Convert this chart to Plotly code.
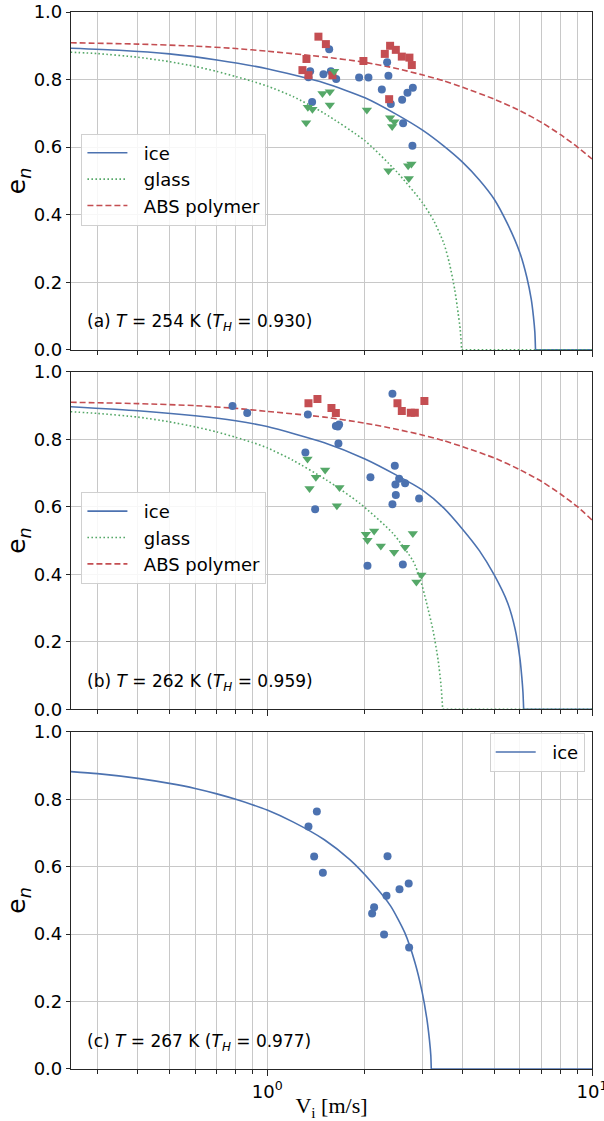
import plotly.graph_objects as go
from plotly.subplots import make_subplots

BLUE = "#4C72B0"
GREEN = "#55A868"
RED = "#C44E52"

# ---------------- panel (a) T = 254 K ----------------
a_ice_v = [1.552, 1.356, 1.490, 1.340, 1.570, 1.631, 1.919, 2.050, 2.340, 2.362,
           2.254, 2.703, 2.808, 2.603, 2.402, 1.375, 2.621, 2.800]
a_ice_e = [0.890, 0.825, 0.816, 0.807, 0.825, 0.802, 0.806, 0.806, 0.851, 0.811,
           0.771, 0.761, 0.776, 0.740, 0.728, 0.734, 0.671, 0.604]
a_glass_v = [1.608, 1.480, 1.559, 1.334, 1.378, 1.559, 1.318, 2.027, 2.390, 2.464,
             2.425, 2.362, 2.716, 2.780, 2.729]
a_glass_e = [0.825, 0.759, 0.764, 0.718, 0.712, 0.725, 0.672, 0.710, 0.687, 0.675,
             0.661, 0.530, 0.545, 0.550, 0.507]
a_abs_v = [1.438, 1.516, 1.321, 1.284, 1.340, 1.588, 1.978, 2.390, 2.489, 2.302,
           2.597, 2.741, 2.788, 2.374]
a_abs_e = [0.927, 0.905, 0.861, 0.828, 0.813, 0.813, 0.855, 0.900, 0.888, 0.876,
           0.868, 0.865, 0.843, 0.742]

a_ice_curve_v = [0.248, 0.35, 0.5, 0.7, 1.0, 1.5, 2.0, 2.5, 3.0, 3.5, 4.0, 4.5, 5.0,
                 5.5, 6.0, 6.3, 6.5, 6.6, 6.67, 6.70]
a_ice_curve_e = [0.893, 0.887, 0.876, 0.858, 0.832, 0.790, 0.746, 0.697, 0.651, 0.603,
                 0.555, 0.503, 0.446, 0.372, 0.287, 0.215, 0.150, 0.100, 0.052, 0.0]
a_glass_curve_v = [0.248, 0.3, 0.4, 0.5, 0.6, 0.7, 0.8, 0.9, 1.0, 1.2, 1.5, 2.0, 2.5,
                   3.0, 3.25, 3.5, 3.64, 3.78, 3.87, 3.93, 3.97]
a_glass_curve_e = [0.881, 0.877, 0.866, 0.853, 0.839, 0.824, 0.809, 0.795, 0.781, 0.750,
                   0.700, 0.619, 0.528, 0.437, 0.384, 0.315, 0.256, 0.178, 0.110, 0.060,
                   0.0]
a_abs_curve_v = [0.248, 0.4, 0.6, 0.8, 1.0, 1.5, 2.0, 2.5, 3.0, 3.5, 4.0, 5.0, 6.0,
                 7.0, 8.0, 9.0, 10.0]
a_abs_curve_e = [0.909, 0.905, 0.899, 0.892, 0.884, 0.867, 0.851, 0.833, 0.814, 0.796,
                 0.777, 0.742, 0.708, 0.673, 0.637, 0.601, 0.565]

# ---------------- panel (b) T = 262 K ----------------
b_ice_v = [2.430, 1.334, 1.627, 1.665, 1.650, 1.657, 1.311, 2.471, 2.079, 2.548,
           2.482, 2.658, 2.489, 2.936, 2.430, 1.405, 2.036, 2.616, 0.782, 0.868]
b_ice_e = [0.935, 0.874, 0.840, 0.844, 0.838, 0.788, 0.761, 0.722, 0.688, 0.683,
           0.666, 0.670, 0.635, 0.625, 0.608, 0.593, 0.425, 0.429, 0.899, 0.878]
b_glass_v = [1.331, 1.508, 1.412, 1.350, 1.669, 1.639, 2.013, 2.134, 2.036, 2.238,
             2.459, 2.658, 2.808, 2.880, 2.985]
b_glass_e = [0.742, 0.709, 0.688, 0.654, 0.657, 0.603, 0.519, 0.528, 0.501, 0.484,
             0.465, 0.480, 0.521, 0.377, 0.398]
b_abs_v = [1.340, 1.428, 1.577, 1.627, 2.518, 2.597, 2.768, 2.848, 3.048]
b_abs_e = [0.907, 0.920, 0.893, 0.878, 0.907, 0.884, 0.879, 0.879, 0.914]

b_ice_curve_v = [0.248, 0.4, 0.6, 0.8, 1.0, 1.5, 2.0, 2.5, 3.0, 3.5, 4.0, 4.5, 5.0,
                 5.5, 5.8, 6.0, 6.08, 6.13, 6.16]
b_ice_curve_e = [0.897, 0.885, 0.870, 0.855, 0.838, 0.790, 0.742, 0.694, 0.650, 0.596,
                 0.533, 0.470, 0.398, 0.315, 0.237, 0.150, 0.095, 0.050, 0.0]
b_glass_curve_v = [0.248, 0.3, 0.4, 0.5, 0.6, 0.7, 0.8, 0.9, 1.0, 1.2, 1.52, 1.93,
                   2.44, 2.81, 2.95, 3.09, 3.24, 3.36, 3.43, 3.47]
b_glass_curve_e = [0.882, 0.877, 0.866, 0.852, 0.837, 0.822, 0.806, 0.791, 0.775, 0.738,
                   0.680, 0.610, 0.521, 0.440, 0.390, 0.318, 0.234, 0.145, 0.070, 0.0]
b_abs_curve_v = [0.248, 0.4, 0.6, 0.8, 1.0, 1.5, 2.0, 2.5, 3.0, 3.5, 4.0, 5.0, 6.0,
                 7.0, 8.0, 9.0, 10.0]
b_abs_curve_e = [0.910, 0.906, 0.900, 0.892, 0.883, 0.866, 0.848, 0.830, 0.813, 0.796,
                 0.778, 0.745, 0.710, 0.675, 0.638, 0.601, 0.561]

# ---------------- panel (c) T = 267 K ----------------
c_ice_v = [1.422, 1.340, 1.395, 1.484, 2.347, 2.727, 2.555, 2.330, 2.134, 2.104,
           2.290, 2.735]
c_ice_e = [0.764, 0.719, 0.630, 0.582, 0.631, 0.550, 0.533, 0.514, 0.480, 0.461,
           0.399, 0.360]
c_ice_curve_v = [0.248, 0.3, 0.4, 0.5, 0.6, 0.7, 0.8, 0.9, 1.0, 1.2, 1.5, 1.8, 2.1,
                 2.4, 2.65, 2.85, 3.0, 3.1, 3.16, 3.19, 3.20]
c_ice_curve_e = [0.882, 0.876, 0.862, 0.847, 0.832, 0.816, 0.800, 0.784, 0.768, 0.733,
                 0.680, 0.620, 0.553, 0.483, 0.405, 0.316, 0.228, 0.150, 0.085, 0.040,
                 0.0]

X_MAX = 10.0
y_ticks = [0.0, 0.2, 0.4, 0.6, 0.8, 1.0]
y_ticktext = ["0.0", "0.2", "0.4", "0.6", "0.8", "1.0"]
x_major = [1, 10]
x_major_text = ["10<sup>0</sup>", "10<sup>1</sup>"]
x_minor = [0.3, 0.4, 0.5, 0.6, 0.7, 0.8, 0.9, 2, 3, 4, 5, 6, 7, 8, 9]

labels = ["(a) <i>T</i> = 254 K (<i>T</i><sub><i>H</i></sub> = 0.930)",
          "(b) <i>T</i> = 262 K (<i>T</i><sub><i>H</i></sub> = 0.959)",
          "(c) <i>T</i> = 267 K (<i>T</i><sub><i>H</i></sub> = 0.977)"]

SP = "\u00a0\u00a0"

fig = make_subplots(rows=3, cols=1, shared_xaxes=True)


def curve(v, e, color, dash, name, row, legend, showlegend=True):
    xs = list(v)
    ys = list(e)
    if ys[-1] == 0.0 and xs[-1] < X_MAX:
        xs = xs + [None, xs[-1], X_MAX]
        ys = ys + [None, 0.0, 0.0]
    fig.add_trace(go.Scatter(x=xs, y=ys, mode="lines", name=SP + name,
                             line=dict(color=color, width=1.6, dash=dash, shape="spline",
                                       smoothing=0.6),
                             connectgaps=False, showlegend=showlegend, legend=legend,
                             hoverinfo="skip"), row=row, col=1)


def points(v, e, color, symbol, size, row):
    fig.add_trace(go.Scatter(x=v, y=e, mode="markers", showlegend=False,
                             marker=dict(color=color, symbol=symbol, size=size,
                                         line=dict(width=0))), row=row, col=1)


DOT = "1.6px,2.4px"
DASH = "6px,3px"

# panel a
curve(a_ice_curve_v, a_ice_curve_e, BLUE, "solid", "ice", 1, "legend")
curve(a_glass_curve_v, a_glass_curve_e, GREEN, DOT, "glass", 1, "legend")
curve(a_abs_curve_v, a_abs_curve_e, RED, DASH, "ABS polymer", 1, "legend")
points(a_ice_v, a_ice_e, BLUE, "circle", 8, 1)
points(a_abs_v, a_abs_e, RED, "square", 8, 1)
points(a_glass_v, a_glass_e, GREEN, "triangle-down", 9, 1)

# panel b
curve(b_ice_curve_v, b_ice_curve_e, BLUE, "solid", "ice", 2, "legend2")
curve(b_glass_curve_v, b_glass_curve_e, GREEN, DOT, "glass", 2, "legend2")
curve(b_abs_curve_v, b_abs_curve_e, RED, DASH, "ABS polymer", 2, "legend2")
points(b_ice_v, b_ice_e, BLUE, "circle", 8, 2)
points(b_abs_v, b_abs_e, RED, "square", 8, 2)
points(b_glass_v, b_glass_e, GREEN, "triangle-down", 9, 2)

# panel c
curve(c_ice_curve_v, c_ice_curve_e, BLUE, "solid", "ice", 3, "legend3")
points(c_ice_v, c_ice_e, BLUE, "circle", 8, 3)

GRID = "#c8c8c8"
AXC = "#262626"
FONT = "DejaVu Sans"

for i in range(1, 4):
    fig.update_xaxes(type="log", range=[-0.604, 1.0], tickvals=x_major,
                     ticktext=x_major_text, showticklabels=(i == 3),
                     ticklabeloverflow="allow", automargin=False,
                     ticks="outside", ticklen=6, tickwidth=1, tickcolor=AXC,
                     showgrid=True, gridcolor=GRID, gridwidth=1,
                     minor=dict(tickvals=x_minor, ticks="outside", ticklen=3.5,
                                tickwidth=0.8, tickcolor=AXC, showgrid=True,
                                gridcolor=GRID, gridwidth=1),
                     showline=True, linecolor=AXC, linewidth=1.2, mirror=True,
                     zeroline=False, tickfont=dict(family=FONT, size=18, color="black"),
                     row=i, col=1)
    fig.update_yaxes(range=[0, 1], tickvals=y_ticks, ticktext=y_ticktext,
                     automargin=False,
                     ticks="outside", ticklen=4, tickwidth=1, tickcolor=AXC,
                     showgrid=True, gridcolor=GRID, gridwidth=1,
                     showline=True, linecolor=AXC, linewidth=1.2, mirror=True,
                     zeroline=False, tickfont=dict(family=FONT, size=18, color="black"),
                     title=dict(text="e<sub><i>n</i></sub>", standoff=0,
                                font=dict(family=FONT, size=25, color="black")),
                     row=i, col=1)

fig.update_xaxes(title=dict(text="V<sub>i</sub> [m/s]", standoff=4,
                            font=dict(family="Liberation Serif", size=22, color="black")),
                 row=3, col=1)

fig.update_layout(
    yaxis=dict(domain=[0.6803, 1.0]),
    yaxis2=dict(domain=[0.3404, 0.6595]),
    yaxis3=dict(domain=[0.0, 0.319]),
)

for i, lab in enumerate(labels):
    yref = "y domain" if i == 0 else f"y{i+1} domain"
    xref = "x domain" if i == 0 else f"x{i+1} domain"
    fig.add_annotation(text=lab, xref=xref, yref=yref, x=0.027, y=0.08,
                       xanchor="left", yanchor="middle", showarrow=False,
                       font=dict(family=FONT, size=17, color="black"))

leg_common = dict(bgcolor="rgba(255,255,255,0.85)", bordercolor="#d0d0d0", borderwidth=1,
                  font=dict(family=FONT, size=18, color="black"),
                  xanchor="left", yanchor="top", itemwidth=40, tracegroupgap=0)
fig.update_layout(
    legend=dict(x=0.02, y=0.885, **leg_common),
    legend2=dict(x=0.02, y=0.546, **leg_common),
    legend3=dict(**{**leg_common, "xanchor": "right"}, x=0.986, y=0.318),
)

fig.update_layout(width=604, height=1121, margin=dict(l=71, r=12, t=12, b=52),
                  plot_bgcolor="white", paper_bgcolor="white",
                  font=dict(family=FONT, color="black"))

fig.write_html("out.html")
